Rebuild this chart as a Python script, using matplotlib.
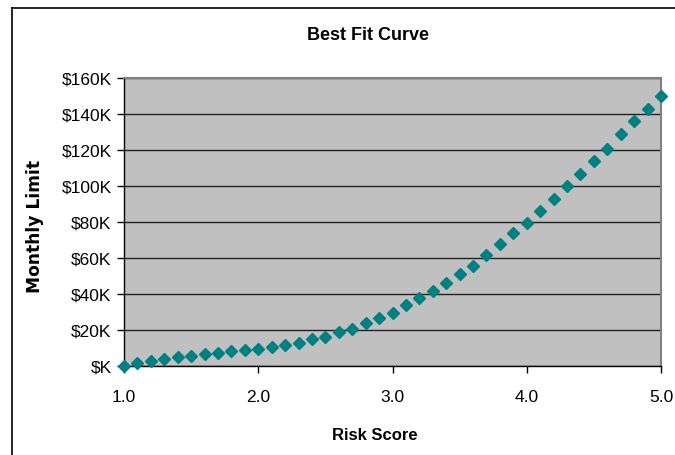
import matplotlib.pyplot as plt
from matplotlib.ticker import FuncFormatter
from matplotlib.lines import Line2D

plt.rcParams['font.family'] = ['Liberation Sans', 'DejaVu Sans']

# data (monthly limit in $K)
risk_score = [1.0, 1.1, 1.2, 1.3, 1.4, 1.5, 1.6, 1.7, 1.8, 1.9,
              2.0, 2.1, 2.2, 2.3, 2.4, 2.5, 2.6, 2.7, 2.8, 2.9,
              3.0, 3.1, 3.2, 3.3, 3.4, 3.5, 3.6, 3.7, 3.8, 3.9,
              4.0, 4.1, 4.2, 4.3, 4.4, 4.5, 4.6, 4.7, 4.8, 4.9, 5.0]
monthly_limit = [0.0, 1.5, 2.9, 4.1, 5.2, 5.6, 6.7, 7.4, 8.1, 9.1,
                 9.6, 10.7, 11.9, 13.0, 14.8, 16.3, 18.9, 20.4, 24.0, 26.7,
                 29.6, 33.7, 37.8, 41.9, 45.9, 51.1, 55.6, 61.9, 67.8, 74.1,
                 79.6, 85.9, 93.0, 100.0, 106.7, 113.7, 120.7, 128.9, 135.9, 143.0, 150.0]

x_ticks = [1.0, 2.0, 3.0, 4.0, 5.0]
y_ticks = [0, 20, 40, 60, 80, 100, 120, 140, 160]

fig = plt.figure(figsize=(6.75, 4.55), dpi=100)
W, H = 675, 455
ax = fig.add_axes([124 / W, 1 - 366 / H, (661 - 124) / W, (366 - 78) / H])
ax.set_facecolor('#C0C0C0')

ax.plot(risk_score, monthly_limit, linestyle='none', marker='D', markersize=6.5,
        color='#008080', clip_on=False, zorder=3)

ax.set_xlim(1.0, 5.0)
ax.set_ylim(0, 160)
ax.set_xticks(x_ticks)
ax.set_yticks(y_ticks)
ax.xaxis.set_major_formatter(FuncFormatter(lambda v, p: '{:.1f}'.format(v)))
ax.yaxis.set_major_formatter(FuncFormatter(lambda v, p: '$K' if v == 0 else '${:.0f}K'.format(v)))
ax.tick_params(axis='both', direction='out', length=5, width=1, color='black',
               labelsize=12.5, pad=4)
ax.tick_params(axis='x', pad=12)

ax.grid(axis='y', color='#202020', linewidth=1)
ax.set_axisbelow(True)
for side in ['top', 'right']:
    ax.spines[side].set_color('#808080')
    ax.spines[side].set_linewidth(1.5)
for side in ['left', 'bottom']:
    ax.spines[side].set_color('#000000')
    ax.spines[side].set_linewidth(1)

fig.text(368 / W, 1 - 35 / H, 'Best Fit Curve', ha='center', va='center',
         fontsize=13, fontweight='bold')
fig.text(375 / W, 1 - 436 / H, 'Risk Score', ha='center', va='center',
         fontsize=12, fontweight='bold')
fig.text(35 / W, 1 - 226 / H, 'Monthly Limit', ha='center', va='center',
         rotation=90, fontsize=12.3, fontweight='bold', family=['DejaVu Sans'])

# outer chart frame (left and top edges)
fig.add_artist(Line2D([12 / W, 12 / W], [0, 1 - 8 / H], color='black', linewidth=1.2))
fig.add_artist(Line2D([12 / W, 1], [1 - 8 / H, 1 - 8 / H], color='black', linewidth=1.2))

fig.savefig('out.png', dpi=100)
